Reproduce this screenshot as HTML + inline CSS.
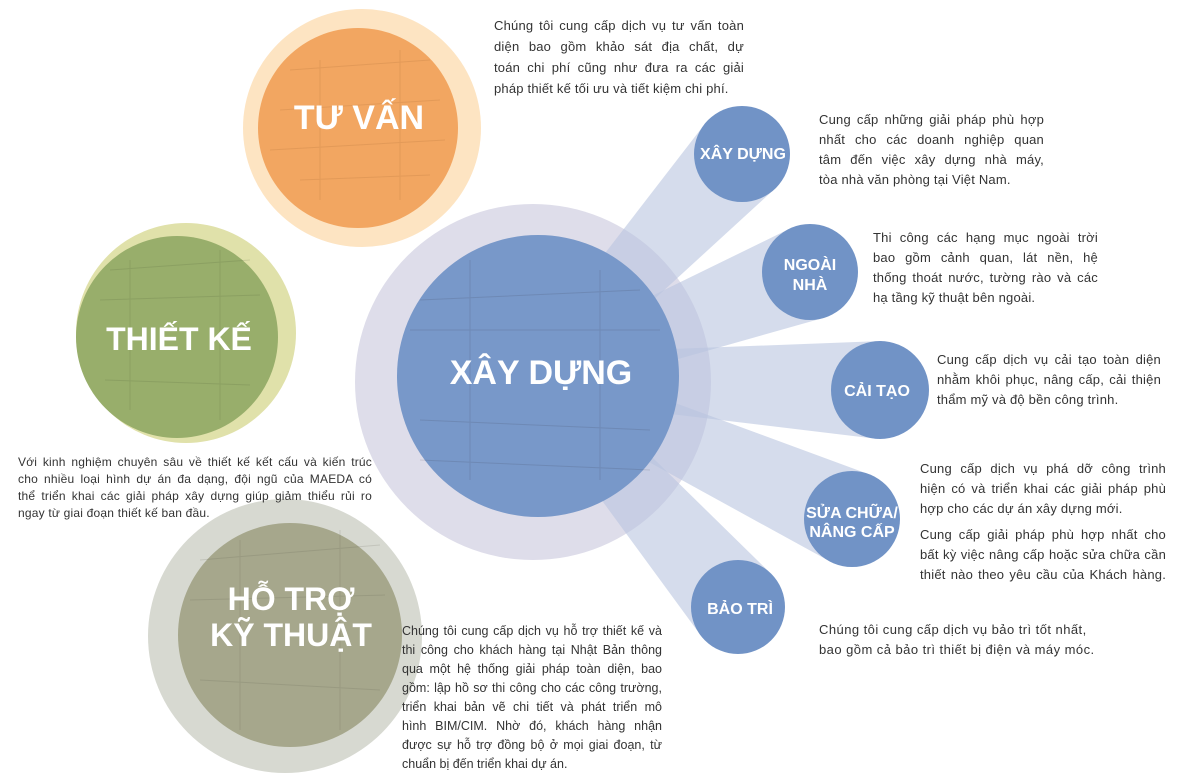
<!DOCTYPE html>
<html><head><meta charset="utf-8"><style>
body{margin:0;width:1183px;height:783px;background:#fff;position:relative;overflow:hidden;font-family:"Liberation Sans","DejaVu Sans",sans-serif;}
svg{position:absolute;left:0;top:0}
.t{position:absolute;font-size:13px;line-height:20px;color:#333;letter-spacing:0.2px}
.t div{text-align:justify;text-align-last:justify;white-space:normal}
.t div.e{text-align-last:left}
</style></head><body>
<svg width="1183" height="783" viewBox="0 0 1183 783" id="s">
<circle cx="362" cy="128" r="119" fill="#fde4c2"/>
<circle cx="358" cy="128" r="100" fill="#f2a661"/>
<circle cx="186" cy="333" r="110" fill="#e0e1aa"/>
<circle cx="177" cy="337" r="101" fill="#98ae6b"/>
<circle cx="285" cy="636" r="137" fill="#d7d9d1"/>
<circle cx="290" cy="635" r="112" fill="#a6a78c"/>
<circle cx="533" cy="382" r="178" fill="#deddea"/>
<g id="rays" fill="#b9c4e0" fill-opacity="0.6"></g>
<circle cx="538" cy="376" r="141" fill="#7898c9"/>
<g fill="#7193c6">
<circle cx="742" cy="154" r="48"/>
<circle cx="810" cy="272" r="48"/>
<circle cx="880" cy="390" r="49"/>
<circle cx="852" cy="519" r="48"/>
<circle cx="738" cy="607" r="47"/>
</g>
<g stroke-opacity="0.15" fill="none" stroke-width="1">
<path d="M290 70 L430 60 M280 110 L440 100 M270 150 L445 140 M300 180 L430 175 M320 60 L320 200 M400 50 L400 200" stroke="#8a5a2a"/>
<path d="M110 270 L250 260 M100 300 L260 295 M105 380 L250 385 M130 260 L130 410 M220 250 L220 420" stroke="#405030"/>
<path d="M200 560 L380 545 M190 600 L385 595 M200 680 L380 690 M240 540 L240 730 M340 530 L340 730" stroke="#505040"/>
<path d="M420 300 L640 290 M410 330 L660 330 M420 420 L650 430 M470 260 L470 480 M600 270 L600 480 M420 460 L650 470" stroke="#334"/>
</g>
<g fill="#fff" font-family="Liberation Sans, DejaVu Sans, sans-serif" font-weight="bold" text-anchor="middle">
<text x="359" y="129" font-size="34">TƯ VẤN</text>
<text x="179" y="350" font-size="32">THIẾT KẾ</text>
<text x="291" y="610" font-size="32">HỖ TRỢ</text>
<text x="291" y="646" font-size="32">KỸ THUẬT</text>
<text x="541" y="384" font-size="34">XÂY DỰNG</text>
<text x="743" y="159" font-size="16">XÂY DỰNG</text>
<text x="810" y="270" font-size="16">NGOÀI</text>
<text x="810" y="290" font-size="16">NHÀ</text>
<text x="877" y="396" font-size="16">CẢI TẠO</text>
<text x="852" y="518" font-size="16">SỬA CHỮA/</text>
<text x="852" y="537" font-size="16">NÂNG CẤP</text>
<text x="740" y="614" font-size="16">BẢO TRÌ</text>
</g>
</svg>
<script>
var O=[538,376],g=document.getElementById('rays');
[[742,154,48],[810,272,48],[880,390,49],[852,519,48],[738,607,47]].forEach(function(c){
var dx=c[0]-O[0],dy=c[1]-O[1],L=Math.hypot(dx,dy),nx=-dy/L,ny=dx/L,w0=22,r=c[2];
var p=[[O[0]+nx*w0,O[1]+ny*w0],[c[0]+nx*r,c[1]+ny*r],[c[0]-nx*r,c[1]-ny*r],[O[0]-nx*w0,O[1]-ny*w0]];
var e=document.createElementNS('http://www.w3.org/2000/svg','polygon');
e.setAttribute('points',p.map(function(q){return q.join(',')}).join(' '));g.appendChild(e);});
</script>
<div class="t" style="left:494px;top:15px;width:250px;line-height:21px"><div>Chúng tôi cung cấp dịch vụ tư vấn toàn</div><div>diện bao gồm khảo sát địa chất, dự</div><div>toán chi phí cũng như đưa ra các giải</div><div class="e">pháp thiết kế tối ưu và tiết kiệm chi phí.</div></div>
<div class="t" style="left:819px;top:110px;width:225px"><div>Cung cấp những giải pháp phù hợp</div><div>nhất cho các doanh nghiệp quan</div><div>tâm đến việc xây dựng nhà máy,</div><div class="e">tòa nhà văn phòng tại Việt Nam.</div></div>
<div class="t" style="left:873px;top:228px;width:225px"><div>Thi công các hạng mục ngoài trời</div><div>bao gồm cảnh quan, lát nền, hệ</div><div>thống thoát nước, tường rào và các</div><div class="e">hạ tầng kỹ thuật bên ngoài.</div></div>
<div class="t" style="left:937px;top:350px;width:224px"><div>Cung cấp dịch vụ cải tạo toàn diện</div><div>nhằm khôi phục, nâng cấp, cải thiện</div><div class="e">thẩm mỹ và độ bền công trình.</div></div>
<div class="t" style="left:920px;top:459px;width:246px"><div>Cung cấp dịch vụ phá dỡ công trình</div><div>hiện có và triển khai các giải pháp phù</div><div class="e">hợp cho các dự án xây dựng mới.</div></div>
<div class="t" style="left:920px;top:525px;width:246px"><div>Cung cấp giải pháp phù hợp nhất cho</div><div>bất kỳ việc nâng cấp hoặc sửa chữa cần</div><div>thiết nào theo yêu cầu của Khách hàng.</div></div>
<div class="t" style="left:819px;top:620px;width:290px;letter-spacing:0.45px"><div class="e">Chúng tôi cung cấp dịch vụ bảo trì tốt nhất,</div><div class="e">bao gồm cả bảo trì thiết bị điện và máy móc.</div></div>
<div class="t" style="left:18px;top:454px;width:354px;font-size:12px;line-height:17px"><div>Với kinh nghiệm chuyên sâu về thiết kế kết cấu và kiến trúc</div><div>cho nhiều loại hình dự án đa dạng, đội ngũ của MAEDA có</div><div>thể triển khai các giải pháp xây dựng giúp giảm thiểu rủi ro</div><div class="e">ngay từ giai đoạn thiết kế ban đầu.</div></div>
<div class="t" style="left:402px;top:622px;width:260px;line-height:19px;font-size:12.5px;letter-spacing:0"><div>Chúng tôi cung cấp dịch vụ hỗ trợ thiết kế và</div><div>thi công cho khách hàng tại Nhật Bản thông</div><div>qua một hệ thống giải pháp toàn diện, bao</div><div>gồm: lập hồ sơ thi công cho các công trường,</div><div>triển khai bản vẽ chi tiết và phát triển mô</div><div>hình BIM/CIM. Nhờ đó, khách hàng nhận</div><div>được sự hỗ trợ đồng bộ ở mọi giai đoạn, từ</div><div class="e">chuẩn bị đến triển khai dự án.</div></div>
</body></html>
